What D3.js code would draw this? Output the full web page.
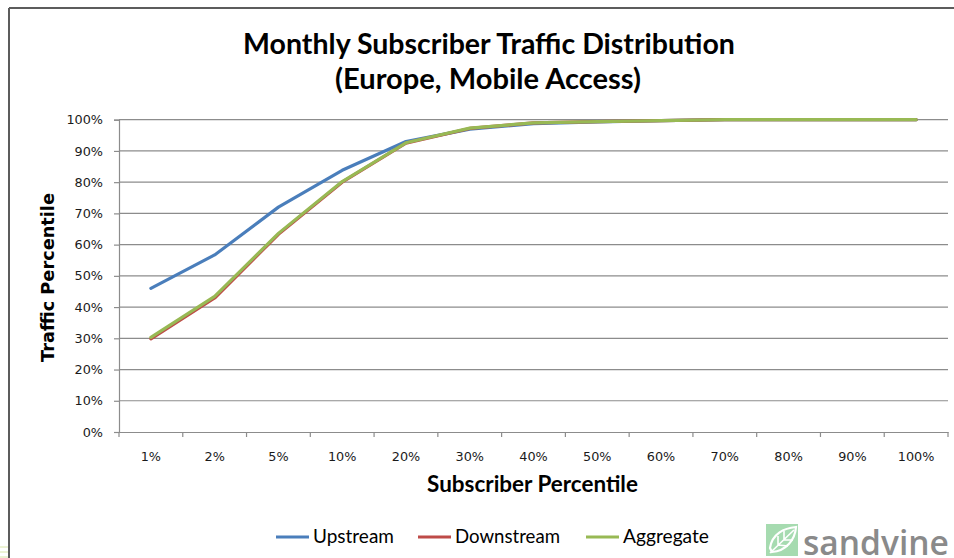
<!DOCTYPE html>
<html><head><meta charset="utf-8">
<script src="https://cdn.jsdelivr.net/npm/d3@7"></script>
<style>html,body{margin:0;padding:0;background:#fff;}svg{display:block;}</style>
</head><body>
<svg id="c" width="954" height="558"></svg>
<script>
const categories = ["1%","2%","5%","10%","20%","30%","40%","50%","60%","70%","80%","90%","100%"];
const upstream   = [46.0, 56.7, 72.0, 83.8, 93.0, 97.0, 98.7, 99.3, 99.7, 100, 100, 100, 100];
const downstream = [29.8, 42.9, 63.3, 80.0, 92.5, 97.2, 99.0, 99.4, 99.7, 100, 100, 100, 100];
const aggregate  = [30.3, 43.4, 63.6, 80.2, 92.6, 97.3, 99.0, 99.4, 99.7, 100, 100, 100, 100];
const yTicks = [0,10,20,30,40,50,60,70,80,90,100];
const seriesNames = ["Upstream","Downstream","Aggregate"];
const seriesColors = ["#4A7EBB","#BE4B48","#98B954"];
const titleLines = ["Monthly Subscriber Traffic Distribution","(Europe, Mobile Access)"];

const svg = d3.select("#c");
const L = 119, R = 948, T = 119.7, B = 432;
const x = d3.scaleBand().domain(categories).range([L, R]);
const y = d3.scaleLinear().domain([0, 100]).range([B, T]);

function fit(sel, w) {
  const n = sel.node();
  const fs = parseFloat(sel.attr("font-size"));
  const cw = n.getComputedTextLength();
  if (cw > 0) sel.attr("font-size", fs * w / cw);
  return sel;
}

// frame
svg.append("line").attr("x1",9).attr("x2",954).attr("y1",8).attr("y2",8).attr("stroke","#5c5c5c").attr("stroke-width",2);
svg.append("line").attr("x1",9).attr("x2",9).attr("y1",8).attr("y2",558).attr("stroke","#5c5c5c").attr("stroke-width",2);
[547,552,557].forEach(yy => svg.append("line").attr("x1",0).attr("x2",8).attr("y1",yy).attr("y2",yy).attr("stroke","#d9e6a8").attr("stroke-width",1));

// title
const t1 = svg.append("text").attr("x",489).attr("y",54).attr("text-anchor","middle")
  .attr("font-family","Lato, sans-serif").attr("font-weight","bold").attr("font-size",27).attr("fill","#000").text(titleLines[0]);
fit(t1, 492);
const t2 = svg.append("text").attr("x",488).attr("y",89).attr("text-anchor","middle")
  .attr("font-family","Lato, sans-serif").attr("font-weight","bold").attr("font-size",27).attr("fill","#000").text(titleLines[1]);
fit(t2, 306);

// gridlines
svg.append("g").selectAll("line").data(yTicks.filter(d=>d>0)).join("line")
  .attr("x1",L).attr("x2",R).attr("y1",d=>y(d)).attr("y2",d=>y(d))
  .attr("stroke","#8c8c8c").attr("stroke-width",1.2);

// y axis
const yAxis = svg.append("g").attr("transform",`translate(${L},0)`)
  .call(d3.axisLeft(y).tickValues(yTicks).tickFormat(d=>d+"%").tickSize(5).tickPadding(11));
yAxis.select(".domain").attr("stroke","#8c8c8c").attr("stroke-width",1.2);
yAxis.selectAll(".tick line").attr("stroke","#8c8c8c").attr("stroke-width",1.2);
yAxis.selectAll("text").attr("font-family","DejaVu Sans, Verdana, sans-serif").attr("font-size",12.8).attr("fill","#1a1a1a");

// x axis
const xAxis = svg.append("g").attr("transform",`translate(0,${B})`)
  .call(d3.axisBottom(x).tickSize(0).tickPadding(20));
xAxis.select(".domain").attr("stroke","#8c8c8c").attr("stroke-width",1.2);
xAxis.selectAll("text").attr("font-family","DejaVu Sans, Verdana, sans-serif").attr("font-size",12.8).attr("fill","#1a1a1a");
const bounds = categories.map(c => x(c)).concat([x(categories[categories.length-1]) + x.bandwidth()]);
svg.append("g").selectAll("line").data(bounds).join("line")
  .attr("x1",d=>d).attr("x2",d=>d).attr("y1",B).attr("y2",B+5)
  .attr("stroke","#8c8c8c").attr("stroke-width",1.2);

// axis titles
const xt = svg.append("text").attr("x",532.5).attr("y",492).attr("text-anchor","middle")
  .attr("font-family","Lato, sans-serif").attr("font-weight","bold").attr("font-size",19).attr("fill","#000").text("Subscriber Percentile");
fit(xt, 211);
const yt = svg.append("text").attr("transform","translate(54,277.5) rotate(-90)").attr("text-anchor","middle")
  .attr("font-family","DejaVu Sans, Verdana, sans-serif").attr("font-weight","bold").attr("font-size",17).attr("fill","#000").text("Traffic Percentile");
fit(yt, 169);

// lines
const line = d3.line().x((d,i)=>x(categories[i]) + x.bandwidth()/2).y(d=>y(d));
[upstream, downstream, aggregate].forEach((s,i) => {
  svg.append("path").datum(s).attr("d",line).attr("fill","none")
    .attr("stroke",seriesColors[i]).attr("stroke-width",3.2).attr("stroke-linejoin","round").attr("stroke-linecap","round");
});

// legend
const legendStarts = [276, 418, 586];
const legendWidths = [81, 105, 86];
seriesNames.forEach((n,i) => {
  const lx = legendStarts[i];
  svg.append("line").attr("x1",lx).attr("x2",lx+33).attr("y1",537).attr("y2",537)
    .attr("stroke",seriesColors[i]).attr("stroke-width",3.2);
  const tx = svg.append("text").attr("x",lx+37).attr("y",543).attr("font-family","Lato, sans-serif")
    .attr("font-size",18.5).attr("fill","#000").text(n);
  fit(tx, legendWidths[i]);
});

// logo
const lg = svg.append("g");
lg.append("rect").attr("x",766).attr("y",524).attr("width",32).attr("height",32).attr("fill","#a6dbb0");
lg.append("path").attr("d","M770,548 C772,534 784,528 796,527 C795,540 786,551 772,552 Z")
  .attr("fill","none").attr("stroke","#fff").attr("stroke-width",2.2);
lg.append("path").attr("d","M770,553 L794,530 M778,545 L778,536 M784,540 L784,531 M778,545 L788,546 M784,540 L793,540")
  .attr("fill","none").attr("stroke","#fff").attr("stroke-width",1.6);
const st = lg.append("text").attr("x",803).attr("y",555).attr("font-family","Open Sans, sans-serif")
  .attr("font-weight",600).attr("font-size",36).attr("fill","#8a8a8a").text("sandvine");
fit(st, 146);
</script>
</body></html>
